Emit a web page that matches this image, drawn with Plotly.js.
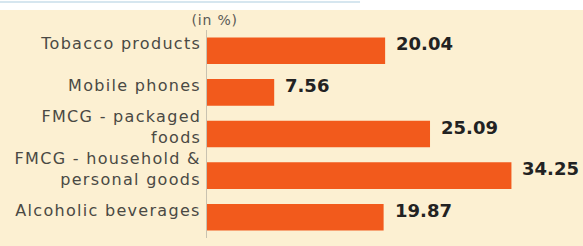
<!DOCTYPE html>
<html><head>
<meta charset="utf-8">
<script src="https://cdn.plot.ly/plotly-3.0.1.min.js"></script>
<style>
html,body{margin:0;padding:0;background:#fff}
g.annotation[data-index="0"] text, g.annotation[data-index="2"] text, g.annotation[data-index="4"] text,
g.annotation[data-index="6"] text, g.annotation[data-index="8"] text { letter-spacing: 1.3px; }
g.annotation[data-index="10"] text { letter-spacing: 0.8px; }
</style>
</head><body>
<div id="chart" style="width:583px;height:246px"></div>
<script>
const categories = ["Tobacco products", "Mobile phones", "FMCG - packaged<br>foods", "FMCG - household &<br>personal goods", "Alcoholic beverages"];
const values = [20.04, 7.56, 25.09, 34.25, 19.87];
const valueLabels = ["20.04", "7.56", "25.09", "34.25", "19.87"];
const unitLabel = "(in %)";

const cream = "#fcf0d2";
const orange = "#f25a1c";

const annotations = [];
categories.forEach((c, i) => {
  annotations.push({
    x: 0, xref: "paper", y: c, yref: "y", xanchor: "right", yanchor: "middle",
    xshift: -4, yshift: 7, align: "right", showarrow: false, text: c,
    font: {family: "DejaVu Sans", size: 16, color: "#4a4944"}
  });
  annotations.push({
    x: values[i], xref: "x", y: c, yref: "y", xanchor: "left", yanchor: "middle",
    xshift: 9, yshift: 7, showarrow: false, text: valueLabels[i],
    font: {family: "DejaVu Sans", size: 18, weight: "bold", color: "#222222"}
  });
});
annotations.push({
  x: -0.04, xref: "paper", y: 1.05, yref: "paper", xanchor: "left", yanchor: "middle",
  showarrow: false, text: unitLabel,
  font: {family: "DejaVu Sans", size: 14, color: "#5a5955"}
});

const data = [{
  type: "bar", orientation: "h",
  x: values, y: categories,
  width: 0.64,
  marker: {color: orange, line: {width: 0}},
  hoverinfo: "skip"
}];

const layout = {
  width: 583, height: 246,
  margin: {l: 207, r: 0, t: 30, b: 8, pad: 0},
  paper_bgcolor: "#ffffff", plot_bgcolor: cream,
  showlegend: false,
  xaxis: {range: [0, 42.3], visible: false, fixedrange: true},
  yaxis: {
    type: "category", autorange: "reversed", range: [4.5, -0.5],
    showticklabels: false, ticks: "", showgrid: false, zeroline: false,
    showline: true, linecolor: "#c9c2b0", linewidth: 1
  },
  bargap: 0.36,
  annotations: annotations,
  shapes: [
    {type: "rect", xref: "paper", yref: "paper", x0: -0.6, x1: 1.05, y0: -0.1, y1: 1.096,
     fillcolor: cream, line: {width: 0}, layer: "below"},
    {type: "line", xref: "paper", yref: "paper", x0: -0.6, x1: 0.407, y0: 1.135, y1: 1.135,
     line: {color: "#d6e6ef", width: 2}, layer: "above"}
  ]
};

Plotly.newPlot("chart", data, layout, {staticPlot: true, displayModeBar: false});
</script>
</body></html>
